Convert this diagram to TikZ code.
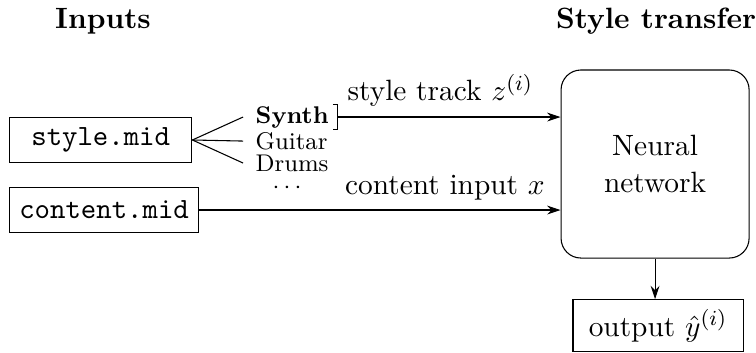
\documentclass[tikz,border=0pt,11pt]{standalone}
\usepackage{amsmath,amssymb}
\usetikzlibrary{arrows.meta,positioning,calc}

\begin{document}
\begin{tikzpicture}[>={Stealth[length=5pt,width=3.3pt]},
 file/.style={draw,font=\ttfamily,minimum width=2.39cm,minimum height=6mm,anchor=west},
 track/.style={font=\footnotesize,anchor=west,inner xsep=4.5pt,inner ysep=1pt},
 net/.style={draw,rounded corners=2.6mm,minimum size=2.465cm,align=center},
 outbox/.style={draw,minimum width=2.23cm,minimum height=6mm}]
\useasboundingbox (0,0) rectangle (9.91,-4.615);
% column headings
\node (hin) at (1.35,-0.275) {\textbf{Inputs}};
\node (hst) at (8.60,-0.275) {\textbf{Style transfer}};
% midi files
\node[file] (sty) at (0.118,-1.835) {style.mid};
\node[file] (con) at (0.118,-2.753) {content.mid};
% tracks of style.mid
\node[track] (synth) at (3.186,-1.534) {\textbf{Synth}};
\node[track] (guitar) at (3.186,-1.849) {Guitar};
\node[track] (drums) at (3.186,-2.137) {Drums};
\node[font=\footnotesize,inner sep=0.5pt] (more) at (3.79,-2.46) {$\cdots$};
\coordinate (brk) at (4.43,-1.534);
% network and result
\node[net] (nn) at (8.587,-2.150) {Neural\\network};
\node[outbox] (out) at (8.626,-4.270) {output $\hat{y}^{(i)}$};
\draw (sty.east)--(synth.west); \draw (sty.east)--(guitar.west); \draw (sty.east)--(drums.west);
\draw ($(brk)+(-0.066,0.164)$) -| ($(brk)+(0,-0.164)$) -- ++(-0.066,0);
\draw[->] (brk) -- node[above,pos=0.46] {style track $z^{(i)}$} (brk -| nn.west);
\draw[->] (con.east) -- node[above,pos=0.68] {content input $x$} (con -| nn.west);
\draw[->] (nn.south) -- (nn.south |- out.north);
\end{tikzpicture}
\end{document}
